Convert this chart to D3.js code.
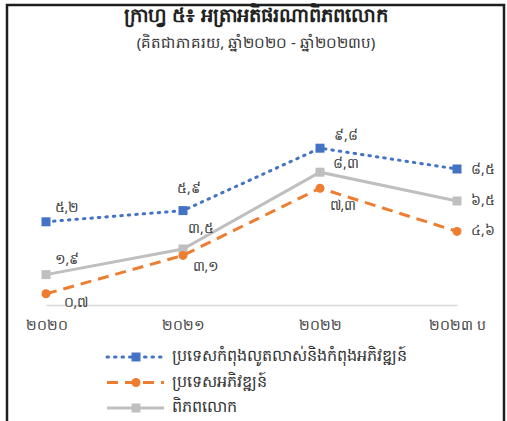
<!DOCTYPE html>
<html>
<head>
<meta charset="utf-8">
<script src="https://cdn.jsdelivr.net/npm/d3@7"></script>
<style>
  html, body { margin: 0; padding: 0; background: #fff; }
  svg { display: block; font-family: "Noto Sans", "DejaVu Sans", sans-serif; }
</style>
</head>
<body>
<svg id="chart"></svg>
<script>
const years = ["២០២០", "២០២១", "២០២២", "២០២៣ ប"];
const seriesNames = [
  "ប្រទេសកំពុងលូតលាស់និងកំពុងអភិវឌ្ឍន៍",
  "ប្រទេសអភិវឌ្ឍន៍",
  "ពិភពលោក"
];
const emerging = [5.2, 5.9, 9.8, 8.5];
const advanced = [0.7, 3.1, 7.3, 4.6];
const world = [1.9, 3.5, 8.3, 6.5];
const khmerDigits = "០១២៣៤៥៦៧៨៩";

const width = 507, height = 421;
const svg = d3.select("#chart").attr("width", width).attr("height", height);

// frame (bottom edge falls outside the picture)
svg.append("rect")
  .attr("x", 7).attr("y", 5)
  .attr("width", 497).attr("height", 440)
  .attr("fill", "none").attr("stroke", "#1e1e1e").attr("stroke-width", 2.5);

svg.append("text")
  .attr("x", 256).attr("y", 22)
  .attr("text-anchor", "middle")
  .attr("font-size", 19.5).attr("font-weight", "bold").attr("fill", "#222")
  .text("ក្រាហ្វ ៥៖ អត្រាអតិផរណាពិភពលោក");

svg.append("text")
  .attr("x", 256).attr("y", 48)
  .attr("text-anchor", "middle")
  .attr("font-size", 15).attr("fill", "#333")
  .text("(គិតជាភាគរយ, ឆ្នាំ២០២០ - ឆ្នាំ២០២៣ប)");

const xScale = d3.scalePoint().domain(years).range([46, 457]);
const yScale = d3.scaleLinear().domain([0, 15]).range([305, 65]);

// category axis
const xAxis = d3.axisBottom(xScale).tickSize(0).tickPadding(15);
svg.append("g")
  .attr("transform", `translate(0,${yScale(0)})`)
  .call(xAxis)
  .call((g) => g.select(".domain").attr("stroke", "#d9d9d9").attr("stroke-width", 1.5))
  .call((g) => g.selectAll("text").attr("font-size", 14).attr("fill", "#404040")
    .attr("font-family", "\"Noto Sans\", sans-serif"));

const toKhmer = (v) => v.toFixed(1).replace(".", ",").replace(/\d/g, (d) => khmerDigits[+d]);

const series = [
  { name: seriesNames[0], values: emerging, color: "#4472c4", dash: "1.5 6", width: 3, shape: "square",
    offsets: [[21, -14], [6, -21], [26, -12], [26, 1]] },
  { name: seriesNames[1], values: advanced, color: "#ed7d31", dash: "11 7", width: 3, shape: "circle",
    offsets: [[30, 9], [23, 12], [23, 18], [26, 0]] },
  { name: seriesNames[2], values: world, color: "#bfbfbf", dash: null, width: 3, shape: "square",
    offsets: [[21, -14], [18, -20], [26, -8], [26, 0]] }
];

const line = d3.line()
  .x((d, i) => xScale(years[i]))
  .y((d) => yScale(d));

const drawMarker = (g, shape, color, x, y) => {
  if (shape === "circle") {
    g.append("circle").attr("cx", x).attr("cy", y).attr("r", 4.5).attr("fill", color);
  } else {
    g.append("rect").attr("x", x - 4.5).attr("y", y - 4.5).attr("width", 9).attr("height", 9).attr("fill", color);
  }
};

// draw world first, then advanced, then emerging on top
[series[2], series[1], series[0]].forEach((s) => {
  const g = svg.append("g");
  g.append("path")
    .attr("d", line(s.values))
    .attr("fill", "none")
    .attr("stroke", s.color)
    .attr("stroke-width", s.width)
    .attr("stroke-linecap", s.dash && s.dash.startsWith("1.5") ? "round" : "butt")
    .attr("stroke-dasharray", s.dash);
  s.values.forEach((v, i) => {
    drawMarker(g, s.shape, s.color, xScale(years[i]), yScale(v));
    g.append("text")
      .attr("x", xScale(years[i]) + s.offsets[i][0])
      .attr("y", yScale(v) + s.offsets[i][1])
      .attr("text-anchor", "middle")
      .attr("dominant-baseline", "middle")
      .attr("font-size", 14).attr("fill", "#404040")
      .text(toKhmer(v));
  });
});

// legend
const legend = svg.append("g");
series.forEach((s, i) => {
  const y = 357 + i * 25.5;
  const row = legend.append("g");
  row.append("line")
    .attr("x1", 107).attr("x2", 164).attr("y1", y).attr("y2", y)
    .attr("stroke", s.color).attr("stroke-width", s.width)
    .attr("stroke-linecap", s.dash && s.dash.startsWith("1.5") ? "round" : "butt")
    .attr("stroke-dasharray", s.dash);
  drawMarker(row, s.shape, s.color, 136, y);
  row.append("text")
    .attr("x", 172).attr("y", y)
    .attr("dominant-baseline", "middle")
    .attr("font-size", 16).attr("fill", "#333")
    .text(s.name);
});
</script>
</body>
</html>
